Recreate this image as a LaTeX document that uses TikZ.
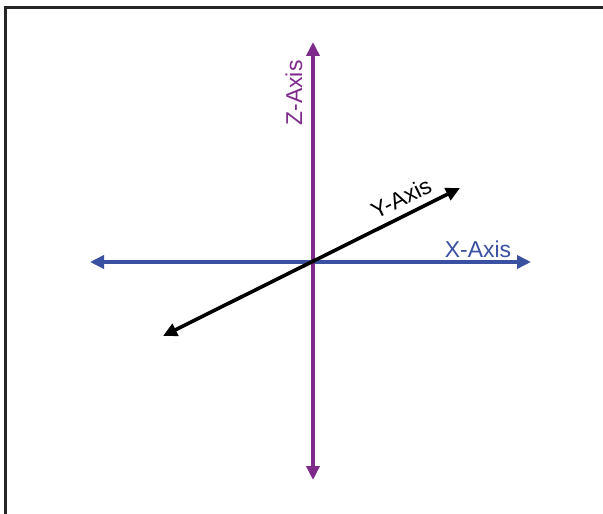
\documentclass[tikz,border=0pt]{standalone}
\usepackage{fontspec}
\setmainfont{Liberation Sans}
\usetikzlibrary{arrows.meta}
\definecolor{zpurple}{RGB}{125,42,138}
\definecolor{xblue}{RGB}{58,80,160}
\begin{document}
\begin{tikzpicture}[x=1bp,y=-1bp,
  axis/.style={line width=3.6bp,{Triangle[length=14bp,width=13bp]}-{Triangle[length=14bp,width=13bp]}},
  lbl/.style={font=\fontsize{23}{26}\selectfont,inner sep=0pt}]
\useasboundingbox (0,0) rectangle (603,514);
\fill[white] (0,0) rectangle (603,514);
\draw[line width=3bp,black!85] (5.5,514) -- (5.5,7.5) -- (603,7.5);
\coordinate (xl) at (90,262);
\coordinate (xr) at (531,262);
\coordinate (zt) at (313,42);
\coordinate (zb) at (313,480);
\coordinate (yl) at (163,336);
\coordinate (yr) at (460,188);
\draw[axis,xblue] (xl) -- (xr);
\draw[axis,zpurple] (zb) -- (zt);
\draw[axis,black] (yl) -- (yr);
\node[lbl,text=zpurple,rotate=90] (zlab) at (294,93) {Z-Axis};
\node[lbl,text=xblue] (xlab) at (478,249) {X-Axis};
\node[lbl,text=black,rotate=26.6] (ylab) at (401,198) {Y-Axis};
\end{tikzpicture}
\end{document}
